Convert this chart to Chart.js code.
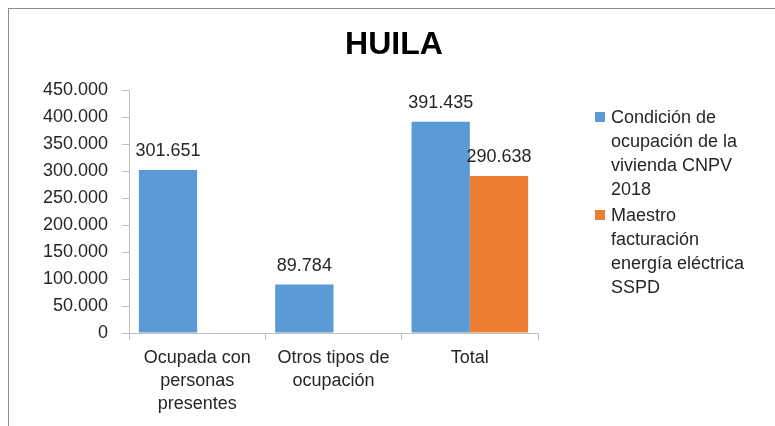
<!DOCTYPE html>
<html>
<head>
<meta charset="utf-8">
<script src="https://cdn.jsdelivr.net/npm/chart.js@4/dist/chart.umd.min.js"></script>
<style>
  html, body { margin: 0; padding: 0; background: #fff; }
  #wrap { position: relative; width: 775px; height: 426px; overflow: hidden; }
  #frame { position: absolute; left: 8px; top: 8px; width: 800px; height: 440px;
           border-top: 1px solid #8c8c8c; border-left: 1px solid #8c8c8c; }
  #chart { position: absolute; left: 0; top: 0; }
  #legend { position: absolute; left: 595px; top: 105px; width: 155px;
            font-family: "Liberation Sans", Arial, sans-serif; font-size: 18px;
            line-height: 24px; color: #262626; }
  .item { position: relative; padding-left: 16px; margin-bottom: 2px; }
  .box { position: absolute; left: 0; top: 7px; width: 10px; height: 10px; }
</style>
</head>
<body>
<div id="wrap">
  <div id="frame"></div>
  <canvas id="chart" width="775" height="426"></canvas>
  <div id="legend"></div>
</div>
<script>
// Data
const title = 'HUILA';
const categories = [['Ocupada con', 'personas', 'presentes'], ['Otros tipos de', 'ocupación'], 'Total'];
const seriesNames = ['Condición de ocupación de la vivienda CNPV 2018', 'Maestro facturación energía eléctrica SSPD'];
const censoValues = [301651, 89784, 391435];
const maestroValues = [null, null, 290638];
const yTicks = [0, 50000, 100000, 150000, 200000, 250000, 300000, 350000, 400000, 450000];

const colors = ['#5b9bd5', '#ed7d31'];
const font = "'Liberation Sans', Arial, sans-serif";
const textColor = '#262626';
const axisColor = '#bfbfbf';

function fmt(v) {
    return String(v).replace(/\B(?=(\d{3})+(?!\d))/g, '.');
}

// Labels above bars
const valueLabels = {
    id: 'valueLabels',
    afterDatasetsDraw(chart) {
        const ctx = chart.ctx;
        ctx.save();
        ctx.font = '18px ' + font;
        ctx.fillStyle = textColor;
        ctx.textAlign = 'center';
        ctx.textBaseline = 'alphabetic';
        chart.data.datasets.forEach((ds, i) => {
            chart.getDatasetMeta(i).data.forEach((bar, j) => {
                const v = ds.data[j];
                if (v == null) return;
                ctx.fillText(fmt(v), bar.x, bar.y - 14);
            });
        });
        ctx.restore();
    }
};

// Title centred on the whole frame, not on the plot area
const frameTitle = {
    id: 'frameTitle',
    afterDraw(chart) {
        const ctx = chart.ctx;
        ctx.save();
        ctx.font = 'bold 32px ' + font;
        ctx.fillStyle = '#000';
        ctx.textAlign = 'center';
        ctx.textBaseline = 'middle';
        ctx.fillText(title, 394, 45);
        ctx.restore();
    }
};

const chart = new Chart(document.getElementById('chart').getContext('2d'), {
    type: 'bar',
    data: {
        labels: categories,
        datasets: [
            { label: seriesNames[0], data: censoValues, backgroundColor: colors[0] },
            { label: seriesNames[1], data: maestroValues, backgroundColor: colors[1] }
        ]
    },
    options: {
        responsive: false,
        animation: false,
        layout: { padding: { left: 39, right: 237, top: 90, bottom: 0 } },
        datasets: { bar: { categoryPercentage: 0.855, barPercentage: 1 } },
        plugins: {
            legend: { display: false },
            tooltip: { enabled: false },
            title: { display: false }
        },
        scales: {
            x: {
                grid: { display: true, drawOnChartArea: false, drawTicks: true, tickLength: 7, color: axisColor },
                border: { display: true, color: axisColor },
                ticks: {
                    color: textColor, padding: 6, maxRotation: 0, autoSkip: false,
                    font: { family: font, size: 18, lineHeight: 1.3 }
                },
                afterFit: scale => { scale.height = 93; }
            },
            y: {
                min: 0,
                max: 450000,
                afterBuildTicks: scale => { scale.ticks = yTicks.map(v => ({ value: v })); },
                grid: { display: true, drawOnChartArea: false, drawTicks: true, tickLength: 7, color: axisColor },
                border: { display: true, color: axisColor },
                ticks: {
                    color: textColor, padding: 14,
                    font: { family: font, size: 18 },
                    callback: v => fmt(v)
                },
                afterFit: scale => { scale.width = 90; }
            }
        }
    },
    plugins: [valueLabels, frameTitle]
});

// Legend with wrapped text
const legend = document.getElementById('legend');
chart.data.datasets.forEach(ds => {
    const item = document.createElement('div');
    item.className = 'item';
    const box = document.createElement('span');
    box.className = 'box';
    box.style.background = ds.backgroundColor;
    item.appendChild(box);
    item.appendChild(document.createTextNode(ds.label));
    legend.appendChild(item);
});
</script>
</body>
</html>
